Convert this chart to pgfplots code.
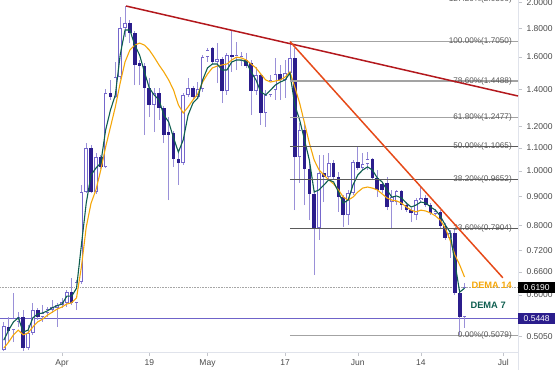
\documentclass[border=0pt]{standalone}
\usepackage{pgfplots}
\pgfplotsset{compat=1.18}
\usepackage{pgfplotstable}
\usepackage{fontspec}
\setmainfont{Liberation Sans}

\definecolor{bearc}{HTML}{2B1D8C}
\definecolor{bullc}{HTML}{7567CC}
\definecolor{wickc}{HTML}{9A90D8}
\definecolor{demaseven}{HTML}{0E5E4F}
\definecolor{demafourteen}{HTML}{F5A70A}
\definecolor{trendred}{HTML}{B3181D}
\definecolor{trendorange}{HTML}{E64A19}
\definecolor{hlinec}{HTML}{6F63C9}
\definecolor{fibl}{HTML}{A3A3A3}
\definecolor{fibd}{HTML}{5A5A5A}
\definecolor{axisc}{HTML}{E0E3EB}
\definecolor{tickl}{HTML}{4A4A4A}

% d = days since 1 Apr; o c h l
\pgfplotstableread{
d o c h l
-12 0.478 0.528 0.537 0.476
-10 0.519 0.546 0.605 0.494
-9 0.537 0.548 0.559 0.526
-7 0.482 0.513 0.530 0.478
-6 0.513 0.564 0.581 0.509
-4 0.548 0.557 0.576 0.537
-3 0.557 0.566 0.571 0.548
-2 0.564 0.571 0.588 0.557
-1 0.569 0.576 0.581 0.526
0 0.576 0.583 0.593 0.569
1 0.581 0.607 0.612 0.571
3 0.581 0.633 0.638 0.564
4 0.633 0.917 0.944 0.628
5 0.917 1.100 1.122 0.913
7 0.917 1.059 1.077 0.910
9 1.017 1.379 1.402 1.012
11 1.356 1.473 1.567 1.351
12 1.473 1.803 1.886 1.461
13 1.803 1.840 1.974 1.737
19 1.313 1.379 1.408 1.174
25 1.033 1.368 1.379 1.025
26 1.368 1.408 1.467 1.356
28 1.356 1.402 1.443 1.345
29 1.402 1.599 1.613 1.385
30 1.599 1.646 1.660 1.567
32 1.567 1.586 1.694 1.437
34 1.390 1.613 1.626 1.368
36 1.593 1.613 1.701 1.516
37 1.573 1.606 1.633 1.541
40 1.390 1.485 1.535 1.368
42 1.270 1.368 1.396 1.199
43 1.368 1.455 1.485 1.356
44 1.396 1.491 1.593 1.340
46 1.455 1.497 1.580 1.351
47 1.497 1.593 1.705 1.455
49 1.059 1.184 1.219 0.952
53 0.791 0.992 1.068 0.753
55 0.976 1.033 1.077 0.964
59 0.834 0.913 0.925 0.801
60 0.913 1.038 1.046 0.906
62 1.012 1.029 1.077 1.004
63 1.029 1.051 1.081 1.004
68 0.880 0.898 0.925 0.791
69 0.880 0.921 0.925 0.869
73 0.834 0.887 0.895 0.817
74 0.887 0.895 0.936 0.880
77 0.838 0.848 0.855 0.834
80 0.759 0.775 0.784 0.699
83 0.548 0.619 0.630 0.524
}\bulldata

\pgfplotstableread{
d o c h l
-11 0.526 0.517 0.548 0.494
-8 0.548 0.482 0.564 0.476
-5 0.564 0.548 0.569 0.541
2 0.607 0.581 0.644 0.576
6 1.100 0.917 1.113 0.913
8 1.059 1.017 1.068 1.008
10 1.379 1.356 1.455 1.340
14 1.840 1.766 1.863 1.694
15 1.766 1.548 1.780 1.425
16 1.560 1.541 1.580 1.425
17 1.541 1.408 1.560 1.160
18 1.408 1.313 1.467 1.249
20 1.379 1.296 1.408 1.234
21 1.296 1.160 1.307 1.122
22 1.174 1.160 1.249 0.887
23 1.170 1.051 1.179 1.017
24 1.051 1.033 1.077 0.944
27 1.408 1.356 1.419 1.345
31 1.660 1.567 1.667 1.554
33 1.586 1.390 1.600 1.323
35 1.613 1.599 1.788 1.504
38 1.580 1.541 1.626 1.529
39 1.560 1.390 1.580 1.259
41 1.485 1.270 1.497 1.209
45 1.491 1.455 1.548 1.340
48 1.593 1.059 1.660 0.851
50 1.184 1.008 1.224 0.869
51 1.008 0.910 1.046 0.817
52 0.910 0.791 0.925 0.652
54 0.992 0.976 1.068 0.880
56 1.033 0.976 1.046 0.964
57 0.976 0.898 0.996 0.845
58 0.898 0.834 0.906 0.794
61 1.038 1.012 1.104 1.004
64 1.051 0.972 1.055 0.964
65 0.972 0.925 1.004 0.898
66 0.948 0.925 0.956 0.913
67 0.952 0.862 0.976 0.851
70 0.921 0.869 0.925 0.851
71 0.869 0.851 0.880 0.845
72 0.851 0.841 0.858 0.810
75 0.895 0.869 0.906 0.862
76 0.869 0.841 0.876 0.834
78 0.845 0.797 0.851 0.791
79 0.797 0.759 0.807 0.753
81 0.775 0.605 0.784 0.600
82 0.605 0.548 0.612 0.5079
}\beardata

\pgfplotstableread{
d v
-12 0.498
-11 0.519
-10 0.537
-9 0.546
-8 0.515
-7 0.519
-6 0.546
-5 0.555
-4 0.557
-3 0.562
-2 0.569
-1 0.574
0 0.578
1 0.597
2 0.597
3 0.617
4 0.737
5 0.876
6 0.984
7 1.012
8 1.033
9 1.184
10 1.286
11 1.368
12 1.613
13 1.788
14 1.788
15 1.680
16 1.613
17 1.504
18 1.408
19 1.368
20 1.340
21 1.259
22 1.224
23 1.146
24 1.081
25 1.137
26 1.259
27 1.323
28 1.351
29 1.455
30 1.529
31 1.554
32 1.554
33 1.516
34 1.516
35 1.567
36 1.580
37 1.580
38 1.567
39 1.504
40 1.455
41 1.385
42 1.368
43 1.396
44 1.425
45 1.443
46 1.455
47 1.497
48 1.313
49 1.234
50 1.137
51 1.046
52 0.917
53 0.925
54 0.944
55 0.964
56 0.956
57 0.917
58 0.876
59 0.887
60 0.944
61 0.984
62 1.004
63 1.017
64 1.004
65 0.972
66 0.956
67 0.925
68 0.898
69 0.902
70 0.895
71 0.876
72 0.862
73 0.869
74 0.880
75 0.876
76 0.862
77 0.851
78 0.831
79 0.801
80 0.778
81 0.685
82 0.607
83 0.617
}\demasevendata

\pgfplotstableread{
d v
-12 0.482
-11 0.494
-10 0.509
-9 0.519
-8 0.509
-7 0.513
-6 0.526
-5 0.537
-4 0.543
-3 0.552
-2 0.559
-1 0.566
0 0.571
1 0.578
2 0.581
3 0.593
4 0.673
5 0.794
6 0.876
7 0.925
8 1.004
9 1.104
10 1.199
11 1.302
12 1.437
13 1.567
14 1.646
15 1.680
16 1.694
17 1.680
18 1.646
19 1.599
20 1.548
21 1.504
22 1.455
23 1.396
24 1.313
25 1.270
26 1.302
27 1.340
28 1.373
29 1.443
30 1.491
31 1.529
32 1.541
33 1.548
34 1.554
35 1.580
36 1.599
37 1.593
38 1.580
39 1.554
40 1.529
41 1.491
42 1.455
43 1.443
44 1.449
45 1.455
46 1.473
47 1.504
48 1.414
49 1.323
50 1.219
51 1.122
52 1.046
53 1.004
54 0.984
55 0.964
56 0.948
57 0.925
58 0.898
59 0.887
60 0.898
61 0.917
62 0.932
63 0.936
64 0.932
65 0.925
66 0.910
67 0.895
68 0.887
69 0.884
70 0.876
71 0.862
72 0.851
73 0.845
74 0.851
75 0.848
76 0.841
77 0.831
78 0.817
79 0.791
80 0.753
81 0.708
82 0.679
83 0.646
}\demafourteendata

\pgfplotsset{
  candle/.style n args={3}{draw=none, mark=none,
    error bars/.cd, y dir=plus, y explicit, error mark=none,
    error bar style={draw=#1, line width=#2, #3}},
}

\begin{document}
\begin{tikzpicture}
\path[use as bounding box] (0,0) rectangle (555pt,370pt);
\begin{axis}[
  at={(0pt,18pt)}, anchor=south west,
  scale only axis, width=518pt, height=352pt,
  xmin=-12.78, xmax=94.02,
  ymode=log, ymin=0.4743, ymax=2.023,
  axis x line*=bottom, axis y line*=right,
  axis line style={-, draw=axisc, line width=0.8pt},
  xtick={0,18,30,46,61,74,91},
  xticklabels={Apr,19,May,17,Jun,14,Jul},
  ytick={0.505,0.6,0.66,0.72,0.8,0.9,1,1.1,1.2,1.4,1.6,1.8,2},
  yticklabels={0.5050,0.6000,0.6600,0.7200,0.8000,0.9000,1.0000,1.1000,1.2000,1.4000,1.6000,1.8000,2.0000},
  yminorticks=false, xminorticks=false,
  tick align=outside, major tick length=4pt,
  tick style={draw=axisc!70!gray, line width=0.6pt},
  ticklabel style={font=\fontsize{8.5}{10}\selectfont, text=tickl},
  yticklabel style={xshift=1pt},
  clip=false,
]
% reference lines
\addplot[hlinec, line width=1pt] coordinates {(-12.78,0.5448) (94.02,0.5448)};
\addplot[black!35, line width=0.6pt, densely dotted] coordinates {(-12.78,0.619) (94.02,0.619)};

% wicks
\addplot[candle={wickc}{0.8pt}{}]
  table[x=d, y=l, y error expr=\thisrow{h}-\thisrow{l}] {\bulldata};
\addplot[candle={wickc}{0.8pt}{}]
  table[x=d, y=l, y error expr=\thisrow{h}-\thisrow{l}] {\beardata};
% bodies
\addplot[candle={bullc}{3.6pt}{}]
  table[x=d, y=o, y error expr=\thisrow{c}-\thisrow{o}] {\bulldata};
\addplot[candle={white}{2.2pt}{shorten <=0.7pt, shorten >=0.7pt}]
  table[x=d, y=o, y error expr=\thisrow{c}-\thisrow{o}] {\bulldata};
\addplot[candle={bearc}{3.6pt}{}]
  table[x=d, y=c, y error expr=\thisrow{o}-\thisrow{c}] {\beardata};

% DEMA lines
\addplot[demafourteen, line width=1.1pt, mark=none] table[x=d, y=v] {\demafourteendata};
\addplot[demaseven, line width=1.1pt, mark=none] table[x=d, y=v] {\demasevendata};

% Fibonacci levels
\addplot[fibl, line width=1.3pt] coordinates {(47,1.7050) (94.02,1.7050)};
\addplot[fibl, line width=1.3pt] coordinates {(47,1.4488) (94.02,1.4488)};
\addplot[fibl, line width=1.3pt] coordinates {(47,1.2477) (94.02,1.2477)};
\addplot[fibd, line width=0.8pt] coordinates {(47,1.1065) (94.02,1.1065)};
\addplot[fibd, line width=0.8pt] coordinates {(47,0.9652) (94.02,0.9652)};
\addplot[fibd, line width=0.8pt] coordinates {(47,0.7904) (94.02,0.7904)};
\addplot[fibl, line width=1.3pt] coordinates {(47,0.5079) (94.02,0.5079)};

\begin{scope}[every node/.style={anchor=east, inner sep=0pt, text=fibd, font=\fontsize{8.2}{9}\selectfont}]
\node[overlay] at (axis cs:92.78,2.0306) {127.20\%(2.0306)};
\node at (axis cs:92.78,1.7050) {100.00\%(1.7050)};
\node at (axis cs:92.78,1.4488) {78.60\%(1.4488)};
\node at (axis cs:92.78,1.2477) {61.80\%(1.2477)};
\node at (axis cs:92.78,1.1065) {50.00\%(1.1065)};
\node at (axis cs:92.78,0.9652) {38.20\%(0.9652)};
\node at (axis cs:92.78,0.7904) {23.60\%(0.7904)};
\node at (axis cs:92.78,0.5079) {0.00\%(0.5079)};
\end{scope}

% trend lines
\addplot[trendred, line width=1.5pt] coordinates {(13.2,1.974) (94.02,1.362)};
\addplot[trendorange, line width=1.5pt] coordinates {(47.0,1.705) (90.9,0.644)};

% DEMA labels
\node[anchor=west, inner sep=0pt, text=demafourteen, font=\bfseries\fontsize{9.3}{10}\selectfont] at (axis cs:84.4,0.625) {DEMA 14};
\node[anchor=west, inner sep=0pt, text=demaseven, font=\bfseries\fontsize{9.3}{10}\selectfont] at (axis cs:84.2,0.574) {DEMA 7};

\coordinate (p619) at (axis cs:94.02,0.619);
\coordinate (p5448) at (axis cs:94.02,0.5448);
\end{axis}
\draw[axisc, line width=0.8pt] (518pt,0pt) -- (518pt,18pt);
\node[anchor=west, fill=black, text=white, inner xsep=3pt, inner ysep=0pt, minimum height=10.5pt, minimum width=37pt, font=\fontsize{8.5}{10}\selectfont] at (p619) {0.6190};
\node[anchor=west, fill=bearc, text=white, inner xsep=3pt, inner ysep=0pt, minimum height=10.5pt, minimum width=37pt, font=\fontsize{8.5}{10}\selectfont] at (p5448) {0.5448};
\end{tikzpicture}
\end{document}
